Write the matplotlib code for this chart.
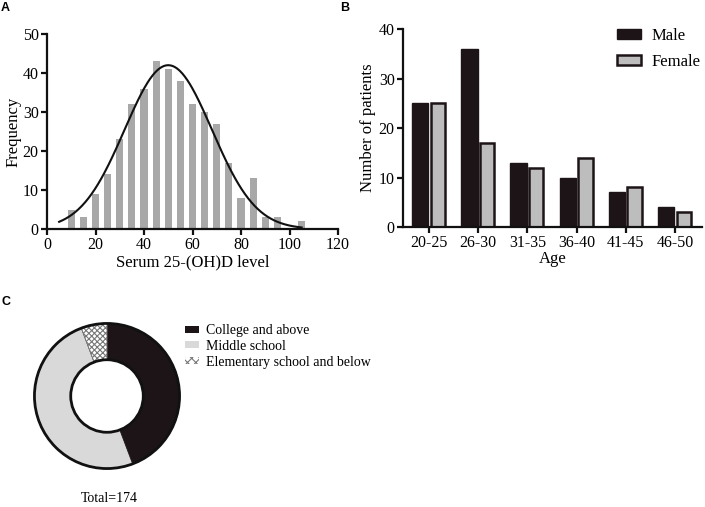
import numpy as np
import matplotlib
matplotlib.use("Agg")
import matplotlib.pyplot as plt
from matplotlib.patches import Patch, Circle

plt.rcParams['font.family'] = ['Liberation Serif', 'DejaVu Serif']
plt.rcParams['hatch.linewidth'] = 0.8

# panel A: histogram of serum 25-(OH)D
bin_centers = [10, 15, 20, 25, 30, 35, 40, 45, 50, 55, 60, 65, 70, 75, 80, 85, 90, 95, 100, 105]
freq = [5, 3, 9, 14, 23, 32, 36, 43, 41, 38, 32, 30, 27, 17, 8, 13, 3, 3, 0, 2]
fit_mean = 50.0
fit_sd = 18.0
bin_width = 5

# panel B: age groups by sex
age_groups = ['20-25', '26-30', '31-35', '36-40', '41-45', '46-50']
male = [25, 36, 13, 10, 7, 4]
female = [25, 17, 12, 14, 8, 3]

# panel C: education
edu_labels = ['College and above', 'Middle school', 'Elementary school and below']
edu_counts = [77, 87, 10]

W, H = 705, 507
fig = plt.figure(figsize=(W / 100, H / 100), dpi=100)


def style_axes(ax):
    for s in ['top', 'right']:
        ax.spines[s].set_visible(False)
    for s in ['left', 'bottom']:
        ax.spines[s].set_linewidth(1.6)
        ax.spines[s].set_color('#111111')
    ax.tick_params(width=1.6, length=4, labelsize=11.5, color='#111111', pad=2)


# ---- A ----
axA = fig.add_axes([47 / W, 1 - 229 / H, (338 - 47) / W, (229 - 34) / H])
axA.bar(bin_centers, freq, width=2.9, color='#a8a8a8', zorder=1)
xs = np.linspace(5, 105, 300)
amp = sum(freq) * bin_width / (fit_sd * np.sqrt(2 * np.pi))
axA.plot(xs, amp * np.exp(-(xs - fit_mean) ** 2 / (2 * fit_sd ** 2)), color='#111111', lw=1.5, zorder=2)
axA.set_xlim(0, 120)
axA.set_ylim(0, 50)
axA.set_xticks(range(0, 121, 20))
axA.set_yticks(range(0, 51, 10))
axA.set_xlabel('Serum 25-(OH)D level', fontsize=12, labelpad=1)
axA.set_ylabel('Frequency', fontsize=12, labelpad=1)
style_axes(axA)

# ---- B ----
axB = fig.add_axes([403 / W, 1 - 227 / H, (702 - 403) / W, (227 - 29) / H])
x = np.arange(len(age_groups))
axB.bar(x - 0.18, male, width=0.33, color='#1c1416', edgecolor='#1c1416', lw=1, label='Male')
axB.bar(x + 0.18, female, width=0.29, color='#bdbdbd', edgecolor='#1c1416', lw=1.8, label='Female')
axB.set_xlim(-0.53, 5.55)
axB.set_ylim(0, 40)
axB.set_xticks(x)
axB.set_xticklabels(age_groups)
axB.set_yticks(range(0, 41, 10))
axB.set_xlabel('Age', fontsize=12, labelpad=0)
axB.set_ylabel('Number of patients', fontsize=12, labelpad=2)
style_axes(axB)
fig.legend(loc='upper left', bbox_to_anchor=(617 / W, 1 - 28 / H), frameon=False, fontsize=12,
           handlelength=1.45, handleheight=0.6, labelspacing=0.6, handletextpad=0.6,
           borderaxespad=0, borderpad=0, handles=axB.get_legend_handles_labels()[0])

# ---- C ----
cx, cy, r = 107, 396, 74
axC = fig.add_axes([(cx - r) / W, 1 - (cy + r) / H, 2 * r / W, 2 * r / H])
wedges, _ = axC.pie(edu_counts, startangle=90, counterclock=False, radius=1,
                    colors=['#1c1416', '#d9d9d9', 'white'],
                    wedgeprops=dict(width=0.5, edgecolor='#1c1416', linewidth=0.6))
wedges[2].set_hatch('xxxxxx')
wedges[2].set_edgecolor('#777777')
axC.add_patch(Circle((0, 0), 1, fill=False, ec='#111111', lw=2))
axC.add_patch(Circle((0, 0), 0.5, fill=False, ec='#111111', lw=2))
axC.set_xlim(-1.02, 1.02)
axC.set_ylim(-1.02, 1.02)
axC.set_axis_off()

handles = [Patch(facecolor='#1c1416', edgecolor='none'),
           Patch(facecolor='#d9d9d9', edgecolor='none'),
           Patch(facecolor='white', edgecolor='#777777', hatch='xxxx', lw=0)]
fig.legend(handles, edu_labels, loc='upper left', bbox_to_anchor=(185 / W, 1 - 324 / H),
           frameon=False, fontsize=10, handlelength=1.0, handleheight=0.4,
           labelspacing=0.2, handletextpad=0.5, borderaxespad=0, borderpad=0)
fig.text(109 / W, 1 - 499 / H, 'Total=174', ha='center', va='center', fontsize=10)

# panel letters
for lab, px, py in [('A', 1, 8), ('B', 340, 8), ('C', 1, 302)]:
    fig.text(px / W, 1 - py / H, lab, ha='left', va='center', fontsize=9,
             fontweight='bold', family=['Liberation Sans', 'DejaVu Sans'])

fig.savefig('out.png', dpi=100)
